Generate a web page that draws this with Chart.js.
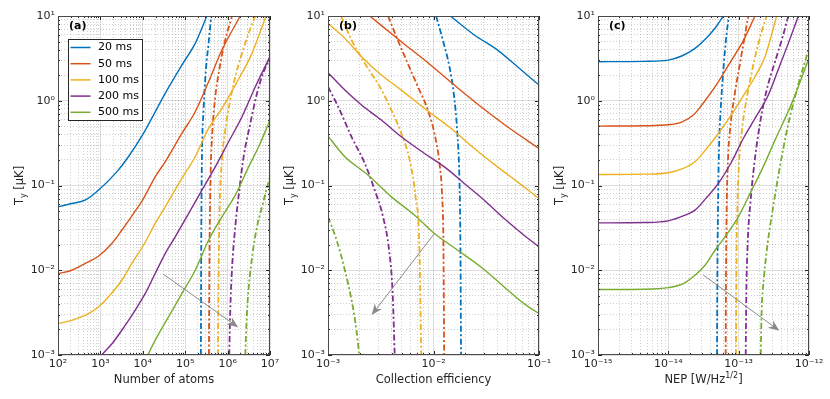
<!DOCTYPE html>
<html lang="en">
<head>
<meta charset="UTF-8" />
<title>T_y vs atoms, collection efficiency, NEP</title>
<style>
  body { margin: 0; background: #fff; width: 830px; height: 399px; position: relative; overflow: hidden; }
  canvas { position: absolute; top: 0; }
</style>
</head>
<body>
<canvas id="panelA" width="290" height="399" style="left:0px"></canvas>
<canvas id="panelB" width="275" height="399" style="left:280px"></canvas>
<canvas id="panelC" width="280" height="399" style="left:550px"></canvas>
<script src="https://cdn.jsdelivr.net/npm/chart.js@4"></script>
<script>
// series labels and colours (MATLAB default order)
const durations = ['20 ms', '50 ms', '100 ms', '200 ms', '500 ms'];
const colors = ['#0072BD', '#D95319', '#EDB120', '#7E2F8E', '#77AC30'];

// axis decades (log10 of tick values with labels)
const yDecades = [-3, -2, -1, 0, 1];
const aDecades = [2, 3, 4, 5, 6, 7];
const bDecades = [-3, -2, -1];
const cDecades = [-15, -14, -13, -12];

// values, stored as log10(x) / log10(T_y)
// (a) number of atoms, solid lines
const aSolidLogX = [
  [2.0, 2.323, 2.638, 2.953, 3.386, 3.661, 4.016, 4.252, 4.528, 4.921, 5.236, 5.512],
  [2.0, 2.323, 2.638, 2.953, 3.268, 3.504, 3.78, 4.016, 4.291, 4.528, 4.921, 5.236, 5.551, 5.866, 6.299],
  [2.0, 2.323, 2.717, 2.953, 3.189, 3.504, 3.74, 4.016, 4.291, 4.528, 4.921, 5.236, 5.551, 5.866, 6.181, 6.575, 6.906],
  [3.031, 3.307, 3.583, 3.819, 4.055, 4.291, 4.528, 4.764, 5.079, 5.394, 5.709, 6.024, 6.339, 6.654, 7.0],
  [4.118, 4.291, 4.606, 4.921, 5.236, 5.551, 5.866, 6.181, 6.496, 6.732, 7.0]
];
const aSolidLogY = [
  [-1.252, -1.213, -1.173, -1.055, -0.839, -0.661, -0.386, -0.169, 0.087, 0.421, 0.677, 1.0],
  [-2.039, -2.0, -1.921, -1.835, -1.685, -1.528, -1.331, -1.154, -0.898, -0.72, -0.386, -0.13, 0.224, 0.598, 1.0],
  [-2.63, -2.591, -2.512, -2.433, -2.315, -2.118, -1.921, -1.705, -1.449, -1.252, -0.917, -0.661, -0.327, -0.091, 0.185, 0.559, 1.0],
  [-3.0, -2.846, -2.65, -2.472, -2.276, -2.039, -1.803, -1.606, -1.331, -1.055, -0.78, -0.484, -0.189, 0.165, 0.52],
  [-3.0, -2.827, -2.551, -2.276, -2.0, -1.646, -1.37, -1.114, -0.78, -0.543, -0.228]
];
// (a) dash-dot lines
const aDashLogX = [
  [5.37, 5.378, 5.394, 5.433, 5.488, 5.551, 5.614],
  [5.559, 5.575, 5.598, 5.638, 5.709, 5.803, 5.906, 6.102],
  [5.772, 5.787, 5.811, 5.866, 5.945, 6.047, 6.181, 6.339, 6.496, 6.654],
  [6.039, 6.063, 6.102, 6.181, 6.276, 6.378, 6.535, 6.693, 6.85, 7.0],
  [6.417, 6.441, 6.48, 6.559, 6.677, 6.811, 7.0]
];
const aDashLogY = [
  [-3.0, -1.685, -0.701, -0.11, 0.362, 0.677, 1.0],
  [-3.0, -1.685, -0.898, -0.386, 0.047, 0.362, 0.638, 1.0],
  [-3.0, -2.079, -1.291, -0.701, -0.346, -0.031, 0.283, 0.559, 0.795, 1.0],
  [-3.0, -2.472, -2.0, -1.488, -1.055, -0.661, -0.268, 0.087, 0.343, 0.5],
  [-3.0, -2.669, -2.315, -1.921, -1.528, -1.252, -0.898]
];

// (b) collection efficiency
const bSolidLogX = [
  [-1.84, -1.613, -1.393, -1.204, -1.0],
  [-2.604, -2.305, -2.085, -1.802, -1.55, -1.299, -1.0],
  [-3.0, -2.84, -2.682, -2.494, -2.305, -2.085, -1.833, -1.613, -1.393, -1.204, -1.0],
  [-3.0, -2.84, -2.682, -2.494, -2.305, -2.085, -1.896, -1.708, -1.519, -1.33, -1.142, -1.0],
  [-3.0, -2.84, -2.619, -2.399, -2.179, -1.991, -1.77, -1.55, -1.33, -1.142, -1.0]
];
const bSolidLogY = [
  [1.0, 0.776, 0.598, 0.402, 0.185],
  [1.0, 0.697, 0.48, 0.185, -0.071, -0.307, -0.563],
  [0.913, 0.736, 0.52, 0.303, 0.126, -0.091, -0.327, -0.563, -0.78, -0.957, -1.154],
  [0.331, 0.126, -0.051, -0.228, -0.425, -0.622, -0.78, -0.976, -1.173, -1.39, -1.587, -1.724],
  [-0.417, -0.661, -0.878, -1.134, -1.35, -1.567, -1.764, -1.961, -2.197, -2.394, -2.512]
];
const bDashLogX = [
  [-1.975, -1.912, -1.849, -1.808, -1.774, -1.755, -1.745, -1.739],
  [-2.431, -2.352, -2.258, -2.148, -2.053, -1.991, -1.943, -1.918, -1.906, -1.899],
  [-2.877, -2.777, -2.651, -2.509, -2.399, -2.305, -2.226, -2.17, -2.135, -2.116],
  [-3.0, -2.903, -2.777, -2.651, -2.557, -2.478, -2.421, -2.387, -2.368],
  [-3.0, -2.918, -2.84, -2.77, -2.73, -2.704]
];
const bDashLogY = [
  [1.0, 0.717, 0.402, 0.087, -0.386, -0.898, -1.685, -3.0],
  [1.0, 0.756, 0.48, 0.165, -0.11, -0.386, -0.74, -1.134, -1.685, -3.0],
  [1.0, 0.717, 0.441, 0.165, -0.11, -0.386, -0.701, -1.134, -1.685, -3.0],
  [0.165, -0.071, -0.425, -0.74, -1.055, -1.37, -1.764, -2.276, -3.0],
  [-1.37, -1.646, -2.0, -2.394, -2.709, -3.0]
];

// (c) NEP
const cSolidLogX = [
  [-15, -14.332, -14.0, -13.81, -13.621, -13.431, -13.313, -13.218],
  [-15, -14.332, -14.0, -13.81, -13.645, -13.479, -13.289, -13.1, -12.934, -12.768],
  [-15, -14.332, -14.0, -13.787, -13.621, -13.455, -13.289, -13.123, -12.957, -12.768, -12.626, -12.46],
  [-15, -14.332, -14.0, -13.763, -13.621, -13.455, -13.289, -13.1, -12.934, -12.768, -12.578, -12.413, -12.294, -12.152],
  [-15, -14.332, -14.0, -13.787, -13.621, -13.479, -13.336, -13.194, -13.005, -12.815, -12.673, -12.483, -12.246, -12.0]
];
const cSolidLogY = [
  [0.461, 0.465, 0.48, 0.528, 0.618, 0.764, 0.882, 1.0],
  [-0.299, -0.295, -0.283, -0.252, -0.169, 0.0, 0.224, 0.48, 0.709, 1.0],
  [-0.87, -0.866, -0.85, -0.799, -0.72, -0.563, -0.386, -0.189, 0.028, 0.283, 0.52, 1.0],
  [-1.441, -1.437, -1.417, -1.35, -1.291, -1.142, -0.976, -0.72, -0.445, -0.209, 0.067, 0.421, 0.677, 1.0],
  [-2.228, -2.224, -2.205, -2.157, -2.059, -1.941, -1.764, -1.606, -1.37, -1.055, -0.819, -0.465, -0.031, 0.5]
];
const cDashLogX = [
  [-13.308, -13.303, -13.294, -13.28, -13.256, -13.218, -13.171, -13.137],
  [-13.185, -13.18, -13.171, -13.152, -13.123, -13.062, -12.981, -12.863],
  [-13.038, -13.033, -13.019, -12.995, -12.948, -12.872, -12.777, -12.673, -12.602],
  [-12.9, -12.891, -12.872, -12.834, -12.777, -12.697, -12.602, -12.483, -12.374, -12.294],
  [-12.687, -12.673, -12.64, -12.588, -12.517, -12.422, -12.303, -12.161, -12.0]
];
const cDashLogY = [
  [-3.0, -2.079, -1.291, -0.583, -0.11, 0.362, 0.795, 1.0],
  [-3.0, -2.079, -1.291, -0.701, -0.346, 0.047, 0.441, 1.0],
  [-3.0, -2.079, -1.291, -0.74, -0.307, 0.087, 0.48, 0.815, 1.0],
  [-3.0, -2.276, -1.685, -1.213, -0.74, -0.268, 0.126, 0.461, 0.756, 1.0],
  [-3.0, -2.472, -2.079, -1.685, -1.291, -0.819, -0.307, 0.165, 0.618]
];

// gray arrows: [log x0, log y0, log x1, log y1]
const arrowA = [4.476, -2.044, 6.25, -2.673];
const arrowB = [-1.995, -1.572, -2.586, -2.528];
const arrowC = [-13.503, -2.056, -12.422, -2.713];

// axis titles, [text, 0 normal | 1 superscript | -1 subscript]
const yTitle = [['T', 0], ['y', -1], [' [\u03bcK]', 0]];
const xTitleA = [['Number of atoms', 0]];
const xTitleB = [['Collection efficiency', 0]];
const xTitleC = [['NEP [W/Hz', 0], ['1/2', 1], [']', 0]];

const FONT = '"DejaVu Sans", "Liberation Sans", sans-serif';
const INK = '#262626';
const SUP = { '-': '\u207b', '0': '\u2070', '1': '\u00b9', '2': '\u00b2', '3': '\u00b3',
  '4': '\u2074', '5': '\u2075', '6': '\u2076', '7': '\u2077', '8': '\u2078', '9': '\u2079' };

function powLabel(e) {
  return '10' + String(e).split('').map(c => SUP[c]).join('');
}

function toPoints(lx, ly) {
  return lx.map((v, i) => ({ x: Math.pow(10, v), y: Math.pow(10, ly[i]) }));
}

function logAxis(decades, fitSize, isX) {
  return {
    type: 'logarithmic',
    min: Math.pow(10, decades[0]),
    max: Math.pow(10, decades[decades.length - 1]),
    afterBuildTicks(scale) {
      const t = [];
      decades.forEach((d, i) => {
        for (let m = 1; m <= 9; m++) {
          if (i === decades.length - 1 && m > 1) break;
          t.push({ value: m * Math.pow(10, d), major: m === 1, exp: d });
        }
      });
      scale.ticks = t;
    },
    afterFit(scale) {
      if (isX) scale.height = fitSize; else scale.width = fitSize;
    },
    ticks: {
      autoSkip: false,
      maxRotation: 0,
      minRotation: 0,
      padding: 3,
      color: INK,
      font: { family: FONT, size: 11 },
      callback: (v, i, ticks) => ticks[i].major ? powLabel(ticks[i].exp) : ''
    },
    grid: {
      drawTicks: false,
      lineWidth: 1,
      color: c => (c.tick && c.tick.major) ? 'rgba(0,0,0,0.13)' : 'rgba(0,0,0,0.19)'
    },
    border: {
      display: false,
      dash: c => (c.tick && c.tick.major) ? [] : [1, 2]
    }
  };
}

function drawRich(ctx, parts, cx, cy, size) {
  const fontFor = m => (m ? Math.round(size * 0.72) : size) + 'px ' + FONT;
  let w = 0;
  parts.forEach(([t, m]) => { ctx.font = fontFor(m); w += ctx.measureText(t).width; });
  let x = cx - w / 2;
  ctx.textAlign = 'left';
  ctx.textBaseline = 'middle';
  parts.forEach(([t, m]) => {
    ctx.font = fontFor(m);
    const dy = m === 1 ? -size * 0.38 : (m === -1 ? size * 0.32 : 0);
    ctx.fillText(t, x, cy + dy);
    x += ctx.measureText(t).width;
  });
}

function seg(ctx, x0, y0, x1, y1) {
  ctx.beginPath(); ctx.moveTo(x0, y0); ctx.lineTo(x1, y1); ctx.stroke();
}

const panelPlugin = {
  id: 'panel',
  afterDraw(chart, args, opts) {
    const { ctx, chartArea: ca, scales: { x, y } } = chart;
    ctx.save();

    // arrow
    if (opts.arrow) {
      const a = opts.arrow;
      const x0 = x.getPixelForValue(Math.pow(10, a[0])), y0 = y.getPixelForValue(Math.pow(10, a[1]));
      const x1 = x.getPixelForValue(Math.pow(10, a[2])), y1 = y.getPixelForValue(Math.pow(10, a[3]));
      const ang = Math.atan2(y1 - y0, x1 - x0), L = 11, W = 4.5;
      const c = Math.cos(ang), s = Math.sin(ang);
      ctx.strokeStyle = '#8a8a8a'; ctx.fillStyle = '#8a8a8a'; ctx.lineWidth = 1;
      seg(ctx, x0, y0, x1 - L * 0.7 * c, y1 - L * 0.7 * s);
      ctx.beginPath();
      ctx.moveTo(x1, y1);
      ctx.lineTo(x1 - L * c + W * s, y1 - L * s - W * c);
      ctx.lineTo(x1 - L * 0.7 * c, y1 - L * 0.7 * s);
      ctx.lineTo(x1 - L * c - W * s, y1 - L * s + W * c);
      ctx.closePath(); ctx.fill();
    }

    // inward tick marks on the four sides
    ctx.strokeStyle = INK; ctx.lineWidth = 1;
    x.ticks.forEach(t => {
      const px = Math.round(x.getPixelForValue(t.value)) + 0.5;
      const len = t.major ? 4 : 2;
      seg(ctx, px, ca.bottom, px, ca.bottom - len);
      seg(ctx, px, ca.top, px, ca.top + len);
    });
    y.ticks.forEach(t => {
      const py = Math.round(y.getPixelForValue(t.value)) + 0.5;
      const len = t.major ? 4 : 2;
      seg(ctx, ca.left, py, ca.left + len, py);
      seg(ctx, ca.right, py, ca.right - len, py);
    });
    // axes box
    ctx.strokeStyle = '#4a4a4a';
    ctx.strokeRect(Math.round(ca.left) + 0.5, Math.round(ca.top) + 0.5,
      Math.round(ca.width) - 1, Math.round(ca.height) - 1);

    // panel letter
    ctx.fillStyle = '#000';
    ctx.font = 'bold 11px ' + FONT;
    ctx.textAlign = 'left'; ctx.textBaseline = 'middle';
    ctx.fillText(opts.letter, ca.left + 11, ca.top + 10);

    // legend
    if (opts.legend) {
      const bx = Math.round(ca.left) + 10, by = Math.round(ca.top) + 23, bw = 74, bh = 81;
      ctx.fillStyle = '#fff'; ctx.fillRect(bx, by, bw, bh);
      ctx.strokeStyle = INK; ctx.lineWidth = 1;
      ctx.strokeRect(bx + 0.5, by + 0.5, bw, bh);
      durations.forEach((lab, i) => {
        const yy = by + 8.5 + i * 16.2;
        ctx.strokeStyle = colors[i]; ctx.lineWidth = 1.5;
        seg(ctx, bx + 2.5, yy, bx + 22.5, yy);
        ctx.fillStyle = '#000';
        ctx.font = '11px ' + FONT;
        ctx.textAlign = 'left'; ctx.textBaseline = 'middle';
        ctx.fillText(lab, bx + 30, yy);
      });
    }

    // axis titles
    ctx.fillStyle = INK;
    drawRich(ctx, opts.xTitle, (ca.left + ca.right) / 2, ca.bottom + 25, 11.5);
    ctx.translate(ca.left - 38, (ca.top + ca.bottom) / 2);
    ctx.rotate(-Math.PI / 2);
    drawRich(ctx, yTitle, 0, 0, 11.5);
    ctx.restore();
  }
};

function makePanel(id, cfg) {
  const datasets = [];
  cfg.solidX.forEach((lx, i) => datasets.push({
    label: durations[i],
    data: toPoints(lx, cfg.solidY[i]),
    borderColor: colors[i],
    borderWidth: 1.4
  }));
  cfg.dashX.forEach((lx, i) => datasets.push({
    label: durations[i] + ' (dash-dot)',
    data: toPoints(lx, cfg.dashY[i]),
    borderColor: colors[i],
    borderWidth: 1.8,
    borderDash: [6, 2.5, 2, 2.5]
  }));
  datasets.forEach(d => {
    d.showLine = true;
    d.pointRadius = 0;
    d.fill = false;
    d.cubicInterpolationMode = 'monotone';
  });

  return new Chart(document.getElementById(id), {
    type: 'scatter',
    data: { datasets },
    options: {
      responsive: false,
      animation: false,
      layout: { padding: { left: 0, right: cfg.padRight, top: 16, bottom: 0 } },
      scales: {
        x: logAxis(cfg.xDecades, 44, true),
        y: logAxis(yDecades, cfg.yWidth, false)
      },
      plugins: {
        legend: { display: false },
        tooltip: { enabled: false },
        panel: { letter: cfg.letter, legend: cfg.legend, arrow: cfg.arrow, xTitle: cfg.xTitle }
      }
    },
    plugins: [panelPlugin]
  });
}

makePanel('panelA', {
  letter: '(a)', legend: true, arrow: arrowA, xTitle: xTitleA,
  xDecades: aDecades, yWidth: 58, padRight: 20,
  solidX: aSolidLogX, solidY: aSolidLogY, dashX: aDashLogX, dashY: aDashLogY
});
makePanel('panelB', {
  letter: '(b)', legend: false, arrow: arrowB, xTitle: xTitleB,
  xDecades: bDecades, yWidth: 48, padRight: 16,
  solidX: bSolidLogX, solidY: bSolidLogY, dashX: bDashLogX, dashY: bDashLogY
});
makePanel('panelC', {
  letter: '(c)', legend: false, arrow: arrowC, xTitle: xTitleC,
  xDecades: cDecades, yWidth: 48, padRight: 21,
  solidX: cSolidLogX, solidY: cSolidLogY, dashX: cDashLogX, dashY: cDashLogY
});
</script>
</body>
</html>
